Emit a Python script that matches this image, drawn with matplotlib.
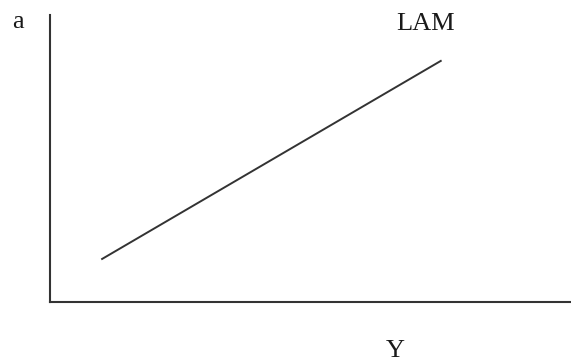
import matplotlib
matplotlib.use("Agg")
import matplotlib.pyplot as plt

# LAM curve endpoints (axes in 0..1 units)
lam_x = [0.10, 0.75]
lam_y = [0.15, 0.84]

plt.rcParams['font.family'] = ['Liberation Serif', 'DejaVu Serif']

fig = plt.figure(figsize=(5.71, 3.62), dpi=100)
ax = fig.add_axes([50 / 571, 60 / 362, 521 / 571, 287 / 362])

ax.plot(lam_x, lam_y, color='#333333', lw=1.4)
ax.set_xlim(0, 1)
ax.set_ylim(0, 1)

for side in ['top', 'right']:
    ax.spines[side].set_visible(False)
for side in ['left', 'bottom']:
    ax.spines[side].set_linewidth(1.5)
    ax.spines[side].set_color('#333333')
ax.set_xticks([])
ax.set_yticks([])

txt = dict(fontsize=19, ha='center', va='baseline', color='#1a1a1a')
fig.text(18 / 571, 1 - 28 / 362, 'a', **txt)
fig.text(426 / 571, 1 - 30 / 362, 'LAM', **txt)
fig.text(395 / 571, 1 - 357 / 362, 'Y', **txt)

fig.savefig('out.png', dpi=100)
